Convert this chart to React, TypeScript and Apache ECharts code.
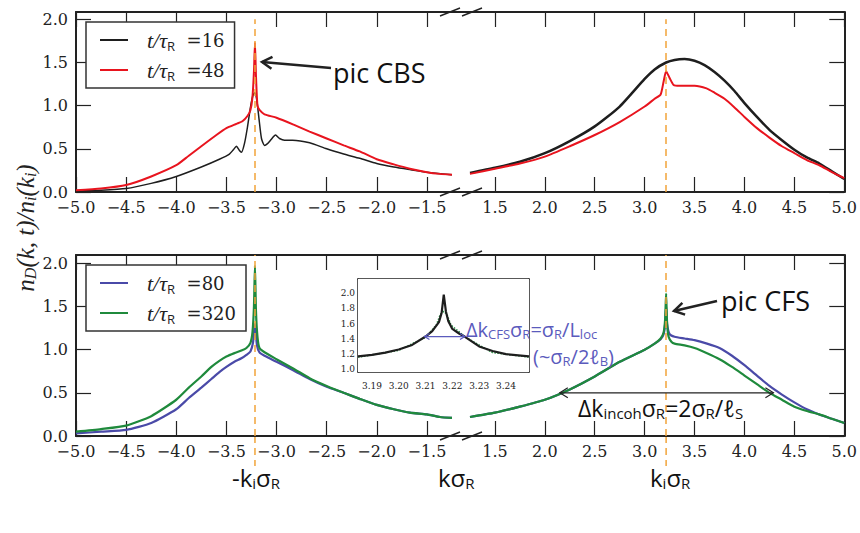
import React, { useEffect, useRef } from 'react';
import * as echarts from 'echarts';

// ---------- tick values ----------
const xTicksLeft = [-5, -4.5, -4, -3.5, -3, -2.5, -2, -1.5];
const xTicksRight = [1.5, 2, 2.5, 3, 3.5, 4, 4.5, 5];
const yTicks = [0, 0.5, 1, 1.5, 2];
const insetXTicks = [3.19, 3.2, 3.21, 3.22, 3.23, 3.24];
const insetYTicks = [1.0, 1.2, 1.4, 1.6, 1.8, 2.0];
const kiSigmaR = 3.215;
const legendTopNames = ['16', '48'];
const legendBottomNames = ['80', '320'];

// ---------- top panel, t/tauR = 16 (black) ----------
const t16LeftK = [-5.0, -4.75, -4.5, -4.25, -4.0, -3.75, -3.57, -3.47, -3.43, -3.4, -3.37, -3.35, -3.32, -3.29, -3.26, -3.235, -3.215, -3.195, -3.175, -3.15, -3.12, -3.09, -3.06, -3.01, -2.97, -2.92, -2.84, -2.67, -2.5, -2.33, -2.17, -2.0, -1.83, -1.67, -1.5, -1.25];
const t16LeftN = [0.01, 0.02, 0.04, 0.1, 0.18, 0.29, 0.38, 0.44, 0.49, 0.53, 0.48, 0.46, 0.56, 0.75, 0.98, 1.12, 1.15, 1.05, 0.85, 0.62, 0.54, 0.56, 0.6, 0.66, 0.62, 0.6, 0.6, 0.57, 0.5, 0.44, 0.39, 0.33, 0.29, 0.26, 0.23, 0.2];
const t16RightK = [1.25, 1.5, 1.75, 2.0, 2.25, 2.5, 2.75, 3.0, 3.1, 3.215, 3.3, 3.4, 3.5, 3.6, 3.7, 3.8, 3.9, 4.0, 4.125, 4.25, 4.375, 4.5, 4.625, 4.75, 4.875, 5.0];
const t16RightN = [0.22, 0.28, 0.35, 0.45, 0.59, 0.76, 0.99, 1.31, 1.42, 1.5, 1.53, 1.54, 1.52, 1.47, 1.39, 1.29, 1.17, 1.03, 0.87, 0.72, 0.6, 0.49, 0.4, 0.33, 0.24, 0.15];

// ---------- top panel, t/tauR = 48 (red) ----------
const t48LeftK = [-5.0, -4.75, -4.5, -4.25, -4.0, -3.875, -3.75, -3.6, -3.5, -3.4, -3.34, -3.29, -3.26, -3.24, -3.225, -3.215, -3.205, -3.19, -3.17, -3.12, -3.0, -2.83, -2.67, -2.5, -2.33, -2.17, -2.0, -1.83, -1.67, -1.5, -1.37, -1.25];
const t48LeftN = [0.02, 0.04, 0.08, 0.18, 0.31, 0.42, 0.53, 0.66, 0.74, 0.79, 0.82, 0.88, 0.95, 1.1, 1.4, 1.73, 1.35, 1.0, 0.95, 0.9, 0.86, 0.78, 0.7, 0.62, 0.54, 0.47, 0.38, 0.32, 0.27, 0.23, 0.21, 0.2];
const t48RightK = [1.25, 1.5, 1.75, 2.0, 2.25, 2.5, 2.75, 3.0, 3.1, 3.16, 3.19, 3.215, 3.25, 3.29, 3.35, 3.5, 3.62, 3.7, 3.8, 3.9, 4.0, 4.125, 4.25, 4.375, 4.5, 4.625, 4.75, 4.875, 5.0];
const t48RightN = [0.21, 0.27, 0.33, 0.41, 0.53, 0.66, 0.81, 0.99, 1.08, 1.13, 1.28, 1.4, 1.32, 1.24, 1.23, 1.23, 1.2, 1.15, 1.08, 0.98, 0.87, 0.74, 0.63, 0.53, 0.45, 0.37, 0.31, 0.23, 0.16];

// ---------- bottom panel, t/tauR = 80 (blue) ----------
const t80LeftK = [-5.0, -4.75, -4.5, -4.25, -4.0, -3.875, -3.75, -3.65, -3.57, -3.5, -3.42, -3.35, -3.3, -3.26, -3.235, -3.215, -3.195, -3.17, -3.12, -3.0, -2.83, -2.67, -2.5, -2.33, -2.17, -2.0, -1.83, -1.67, -1.5, -1.37, -1.25];
const t80LeftN = [0.03, 0.05, 0.07, 0.15, 0.31, 0.44, 0.56, 0.66, 0.74, 0.8, 0.86, 0.9, 0.94, 0.98, 1.08, 1.3, 1.05, 0.97, 0.93, 0.86, 0.76, 0.66, 0.57, 0.5, 0.43, 0.36, 0.31, 0.27, 0.25, 0.22, 0.21];
const t80RightK = [1.25, 1.5, 1.75, 2.0, 2.25, 2.5, 2.75, 3.0, 3.1, 3.16, 3.19, 3.205, 3.215, 3.225, 3.25, 3.3, 3.4, 3.5, 3.625, 3.75, 3.875, 4.0, 4.125, 4.25, 4.375, 4.5, 4.625, 4.75, 4.875, 5.0];
const t80RightN = [0.22, 0.27, 0.34, 0.42, 0.54, 0.69, 0.86, 1.0, 1.07, 1.12, 1.18, 1.3, 1.5, 1.3, 1.18, 1.15, 1.13, 1.11, 1.07, 1.02, 0.93, 0.82, 0.7, 0.58, 0.48, 0.39, 0.31, 0.25, 0.2, 0.15];

// ---------- bottom panel, t/tauR = 320 (green) ----------
const t320LeftK = [-5.0, -4.75, -4.5, -4.25, -4.0, -3.875, -3.75, -3.65, -3.57, -3.5, -3.42, -3.35, -3.3, -3.26, -3.24, -3.225, -3.215, -3.205, -3.19, -3.17, -3.12, -3.0, -2.83, -2.67, -2.5, -2.33, -2.17, -2.0, -1.83, -1.67, -1.5, -1.37, -1.25];
const t320LeftN = [0.05, 0.08, 0.12, 0.23, 0.42, 0.56, 0.69, 0.8, 0.87, 0.92, 0.96, 0.99, 1.02, 1.08, 1.2, 1.5, 1.97, 1.45, 1.15, 1.02, 0.97, 0.89, 0.78, 0.67, 0.58, 0.5, 0.43, 0.36, 0.31, 0.27, 0.25, 0.22, 0.21];
const t320RightK = [1.25, 1.5, 1.75, 2.0, 2.25, 2.5, 2.75, 3.0, 3.1, 3.16, 3.19, 3.205, 3.215, 3.225, 3.24, 3.27, 3.3, 3.4, 3.5, 3.625, 3.75, 3.875, 4.0, 4.125, 4.25, 4.375, 4.5, 4.625, 4.75, 4.875, 5.0];
const t320RightN = [0.22, 0.27, 0.34, 0.42, 0.54, 0.69, 0.86, 1.0, 1.07, 1.13, 1.2, 1.35, 1.65, 1.3, 1.15, 1.09, 1.07, 1.05, 1.02, 0.96, 0.89, 0.8, 0.7, 0.6, 0.5, 0.42, 0.34, 0.29, 0.25, 0.2, 0.15];

// ---------- inset (zoom on the CFS peak) ----------
const insetBlackK = [3.1848, 3.19, 3.195, 3.2, 3.205, 3.21, 3.2125, 3.215, 3.216, 3.2168, 3.2176, 3.2185, 3.22, 3.2225, 3.225, 3.23, 3.235, 3.24, 3.2486];
const insetBlackN = [1.17, 1.19, 1.22, 1.26, 1.32, 1.43, 1.5, 1.62, 1.74, 1.98, 1.76, 1.63, 1.53, 1.47, 1.42, 1.3, 1.24, 1.2, 1.17];
const insetGreenK = [3.1848, 3.2, 3.21, 3.214, 3.2155, 3.2168, 3.218, 3.2195, 3.225, 3.235, 3.2486];
const insetGreenN = [1.16, 1.25, 1.42, 1.58, 1.72, 1.76, 1.72, 1.58, 1.42, 1.22, 1.16];
const insetWidthLevel = 1.43;
const insetWidthK = [3.2096, 3.2247];
const incohLevel = 0.5;
const incohK = [2.15, 4.29];

const frame = '#222';
const serif = "'DejaVu Serif', serif";
const serifIt = "'Liberation Serif', serif";
const sans = "'Open Sans', sans-serif";
const orange = '#f2a43a';
const blueAnn = '#5b5bbd';
const cBlack = '#1e1e1e';
const cRed = '#e8141e';
const cBlue = '#4a4aa8';
const cGreen = '#1f8a3c';

const zip = (k: number[], n: number[]) => k.map((x, i) => [x, n[i]]);
const fmt1 = (v: number) => (v < 0 ? '\u2212' + Math.abs(v).toFixed(1) : v.toFixed(1));

function mkAxis(gridIndex: number, min: number, max: number, position: string, ticks: number[], showLabels: boolean, tickLen: number, lw: number, label: any = {}) {
  return {
    type: 'value', gridIndex, min, max, position,
    axisLine: { show: true, onZero: false, lineStyle: { color: frame, width: lw } },
    axisTick: { show: true, inside: true, length: tickLen, customValues: ticks, lineStyle: { color: frame, width: 1.2 } },
    axisLabel: showLabels ? { show: true, customValues: ticks, ...label } : { show: false },
    splitLine: { show: false },
  };
}

const mainLabel = { fontFamily: serif, fontSize: 16, lineHeight: 13, color: '#222', formatter: fmt1 };
const insetXLabel = { fontFamily: serif, fontSize: 9, lineHeight: 9, color: '#222', margin: 9, formatter: (v: number) => v.toFixed(2) };
const insetYLabel = { fontFamily: serif, fontSize: 9, lineHeight: 9, color: '#222', margin: 3, formatter: (v: number) => v.toFixed(1) };

function head(tip: number[], from: number[], len: number, half: number) {
  const dx = from[0] - tip[0];
  const dy = from[1] - tip[1];
  const d = Math.hypot(dx, dy);
  const ux = dx / d, uy = dy / d;
  return [
    [tip[0] + ux * len - uy * half, tip[1] + uy * len + ux * half],
    tip,
    [tip[0] + ux * len + uy * half, tip[1] + uy * len - ux * half],
  ];
}

function arrow(tail: number[], tip: number[], color: string, lw: number, len: number, half: number, both = false, z = 40) {
  const els: any[] = [
    { type: 'line', silent: true, z, shape: { x1: tail[0], y1: tail[1], x2: tip[0], y2: tip[1] }, style: { stroke: color, lineWidth: lw } },
    { type: 'polyline', silent: true, z, shape: { points: head(tip, tail, len, half) }, style: { stroke: color, lineWidth: lw, fill: null } },
  ];
  if (both) {
    els.push({ type: 'polyline', silent: true, z, shape: { points: head(tail, tip, len, half) }, style: { stroke: color, lineWidth: lw, fill: null } });
  }
  return els;
}

function richText(x: number, y: number, text: string, rich: any, z = 40) {
  return { type: 'text', silent: true, x, y, z, style: { text, rich, verticalAlign: 'middle', align: 'left' } };
}

function sansRich(main: number, sub: number, color: string) {
  return {
    m: { fontFamily: sans, fontSize: main, lineHeight: main + 2, fill: color, color },
    s: { fontFamily: sans, fontSize: sub, lineHeight: 2, verticalAlign: 'bottom', fill: color, color },
  };
}

function breakMarks(): any[] {
  const els: any[] = [];
  [12, 192, 255, 436].forEach((yf) => {
    [450, 472].forEach((xc) => {
      els.push({ type: 'line', silent: true, z: 100, shape: { x1: xc - 10, y1: yf + 4, x2: xc + 10, y2: yf - 4 }, style: { stroke: frame, lineWidth: 1.5 } });
    });
  });
  return els;
}

function dashedMark(x: number, yTop: number) {
  return {
    silent: true,
    symbol: ['none', 'none'],
    label: { show: false },
    emphasis: { disabled: true },
    lineStyle: { color: orange, type: [7, 5], width: 1.5 },
    data: [[{ coord: [x, 0] }, { coord: [x, yTop] }]],
  };
}

export default function App() {
  const ref = useRef<HTMLDivElement>(null);
  useEffect(() => {
    if (!ref.current) return;
    const chart = echarts.init(ref.current, undefined, { renderer: 'svg' });

    const legendText = {
      rich: {
        sp: { width: 14 },
        i: { fontFamily: serifIt, fontStyle: 'italic', fontSize: 22, lineHeight: 24, color: '#222' },
        s: { fontFamily: sans, fontSize: 13, lineHeight: 6, verticalAlign: 'bottom', color: '#222' },
        e: { fontFamily: serif, fontSize: 18, lineHeight: 24, color: '#222' },
      },
    };
    const legendCommon = {
      orient: 'vertical', left: 86, itemWidth: 28, itemHeight: 2, itemGap: 7, icon: 'rect',
      padding: [7, 10, 6, 14], borderColor: '#333', borderWidth: 1.5, backgroundColor: '#fff',
      selectedMode: false, textStyle: legendText,
      formatter: (name: string) => `{sp|}{i|t/\u03c4}{s|R}{e|  =${name}}`,
    };

    const lineS = (name: string, color: string, xi: number, yi: number, data: number[][], width: number, extra: any = {}) => ({
      type: 'line', name, xAxisIndex: xi, yAxisIndex: yi, data, symbol: 'none', showSymbol: false,
      smooth: 0.2,
      lineStyle: { color, width }, itemStyle: { color }, emphasis: { disabled: true }, silent: true, ...extra,
    });

    const option: any = {
      animation: false,
      backgroundColor: '#fff',
      grid: [
        { left: 76, top: 12, width: 385, height: 180 },
        { left: 461, top: 12, width: 385, height: 180 },
        { left: 76, top: 255, width: 385, height: 181 },
        { left: 461, top: 255, width: 385, height: 181 },
        { left: 358, top: 279, width: 171, height: 93, show: true, backgroundColor: '#fff', borderWidth: 0, z: 5 },
      ],
      xAxis: [
        mkAxis(0, -5, -1.16, 'bottom', xTicksLeft, true, 15, 2, { ...mainLabel, margin: 8.5 }),
        mkAxis(0, -5, -1.16, 'top', xTicksLeft, false, 15, 2),
        mkAxis(1, 1.16, 5, 'bottom', xTicksRight, true, 15, 2, { ...mainLabel, margin: 8.5 }),
        mkAxis(1, 1.16, 5, 'top', xTicksRight, false, 15, 2),
        mkAxis(2, -5, -1.16, 'bottom', xTicksLeft, true, 15, 2, { ...mainLabel, margin: 9 }),
        mkAxis(2, -5, -1.16, 'top', xTicksLeft, false, 15, 2),
        mkAxis(3, 1.16, 5, 'bottom', xTicksRight, true, 15, 2, { ...mainLabel, margin: 9 }),
        mkAxis(3, 1.16, 5, 'top', xTicksRight, false, 15, 2),
        mkAxis(4, 3.1848, 3.2486, 'bottom', insetXTicks, true, 6, 1.5, insetXLabel),
        mkAxis(4, 3.1848, 3.2486, 'top', insetXTicks, false, 6, 1.5),
      ],
      yAxis: [
        mkAxis(0, 0, 2.085, 'left', yTicks, true, 15, 2, { ...mainLabel, margin: 8 }),
        mkAxis(1, 0, 2.085, 'right', yTicks, false, 15, 2),
        mkAxis(2, 0, 2.097, 'left', yTicks, true, 15, 2, { ...mainLabel, margin: 8 }),
        mkAxis(3, 0, 2.097, 'right', yTicks, false, 15, 2),
        mkAxis(4, 0.965, 2.185, 'left', insetYTicks, true, 6, 1.5, insetYLabel),
        mkAxis(4, 0.965, 2.185, 'right', insetYTicks, false, 6, 1.5),
      ],
      legend: [
        { ...legendCommon, top: 22, data: legendTopNames },
        { ...legendCommon, top: 265, data: legendBottomNames },
      ],
      series: [
        lineS('16', cBlack, 0, 0, zip(t16LeftK, t16LeftN), 1.5),
        lineS('48', cRed, 0, 0, zip(t48LeftK, t48LeftN), 2, { markLine: dashedMark(-kiSigmaR, 2.0) }),
        lineS('16', cBlack, 2, 1, zip(t16RightK, t16RightN), 2.5),
        lineS('48', cRed, 2, 1, zip(t48RightK, t48RightN), 2, { markLine: dashedMark(kiSigmaR, 2.0) }),
        lineS('80', cBlue, 4, 2, zip(t80LeftK, t80LeftN), 2.2),
        lineS('320', cGreen, 4, 2, zip(t320LeftK, t320LeftN), 2.2, { markLine: dashedMark(-kiSigmaR, 2.097) }),
        lineS('80', cBlue, 6, 3, zip(t80RightK, t80RightN), 2.2),
        lineS('320', cGreen, 6, 3, zip(t320RightK, t320RightN), 2.2, { markLine: dashedMark(kiSigmaR, 2.097) }),
        lineS('inset320', cGreen, 8, 4, zip(insetGreenK, insetGreenN), 1.5, { z: 6, smooth: false, lineStyle: { color: cGreen, width: 1.5, type: 'dotted' } }),
        lineS('inset80', cBlack, 8, 4, zip(insetBlackK, insetBlackN), 2.2, { z: 6, smooth: false }),
      ],
    };
    chart.setOption(option);

    const pInL = chart.convertToPixel({ gridIndex: 4 }, [insetWidthK[0], insetWidthLevel]) as number[];
    const pInR = chart.convertToPixel({ gridIndex: 4 }, [insetWidthK[1], insetWidthLevel]) as number[];
    const pIncL = chart.convertToPixel({ gridIndex: 3 }, [incohK[0], incohLevel]) as number[];
    const pIncR = chart.convertToPixel({ gridIndex: 3 }, [incohK[1], incohLevel]) as number[];
    const xDashL = (chart.convertToPixel({ gridIndex: 2 }, [-kiSigmaR, 0]) as number[])[0];
    const xDashR = (chart.convertToPixel({ gridIndex: 3 }, [kiSigmaR, 0]) as number[])[0];

    const graphic: any[] = [
      ...breakMarks(),
      { type: 'line', silent: true, shape: { x1: xDashL, y1: 436, x2: xDashL, y2: 466 }, style: { stroke: orange, lineWidth: 1.5, lineDash: [7, 5] } },
      { type: 'line', silent: true, shape: { x1: xDashR, y1: 436, x2: xDashR, y2: 466 }, style: { stroke: orange, lineWidth: 1.5, lineDash: [7, 5] } },
      { type: 'text', silent: true, x: 333, y: 72, style: { text: 'pic CBS', fontFamily: sans, fontSize: 27, fill: '#111', verticalAlign: 'middle' } },
      ...arrow([331, 68], [262, 62], '#222', 2.5, 10, 6),
      { type: 'text', silent: true, x: 721, y: 300, style: { text: 'pic CFS', fontFamily: sans, fontSize: 27, fill: '#111', verticalAlign: 'middle' } },
      ...arrow([717, 301], [674, 311], '#222', 2.5, 10, 6),
      ...arrow(pIncL, pIncR, '#222', 1.2, 8, 5, true),
      ...arrow(pInL, pInR, blueAnn, 1.2, 5, 3, true, 50),
      richText(466, 329, '{m|\u0394k}{s|CFS}{m|\u03c3}{s|R}{m|=\u03c3}{s|R}{m|/L}{s|loc}', sansRich(20, 13, blueAnn), 60),
      richText(533, 356, '{m|(~\u03c3}{s|R}{m|/2\u2113}{s|B}{m|)}', sansRich(20, 13, blueAnn), 60),
      richText(578, 408, '{m|\u0394k}{s|incoh}{m|\u03c3}{s|R}{m|=2\u03c3}{s|R}{m|/\u2113}{s|S}', sansRich(23, 15, '#111')),
      richText(232, 477, '{m|-k}{s|i}{m|\u03c3}{s|R}', sansRich(24, 15, '#111')),
      richText(438, 477, '{m|k\u03c3}{s|R}', sansRich(24, 15, '#111')),
      richText(650, 477, '{m|k}{s|i}{m|\u03c3}{s|R}', sansRich(24, 15, '#111')),
      {
        type: 'text', silent: true, x: 25, y: 228, rotation: Math.PI / 2,
        style: {
          text: '{i|n}{s|D}{i|(k, t)/n}{s|i}{i|(k}{s|i}{i|)}',
          align: 'center', verticalAlign: 'middle',
          rich: {
            i: { fontFamily: serifIt, fontStyle: 'italic', fontSize: 25, lineHeight: 26, fill: '#222' },
            s: { fontFamily: serifIt, fontStyle: 'italic', fontSize: 16, lineHeight: 4, verticalAlign: 'bottom', fill: '#222' },
          },
        },
      },
    ];
    chart.setOption({ graphic });

    return () => chart.dispose();
  }, []);
  return <div ref={ref} style={{ position: 'fixed', left: 0, top: 0, width: 860, height: 533, background: '#fff' }} />;
}
